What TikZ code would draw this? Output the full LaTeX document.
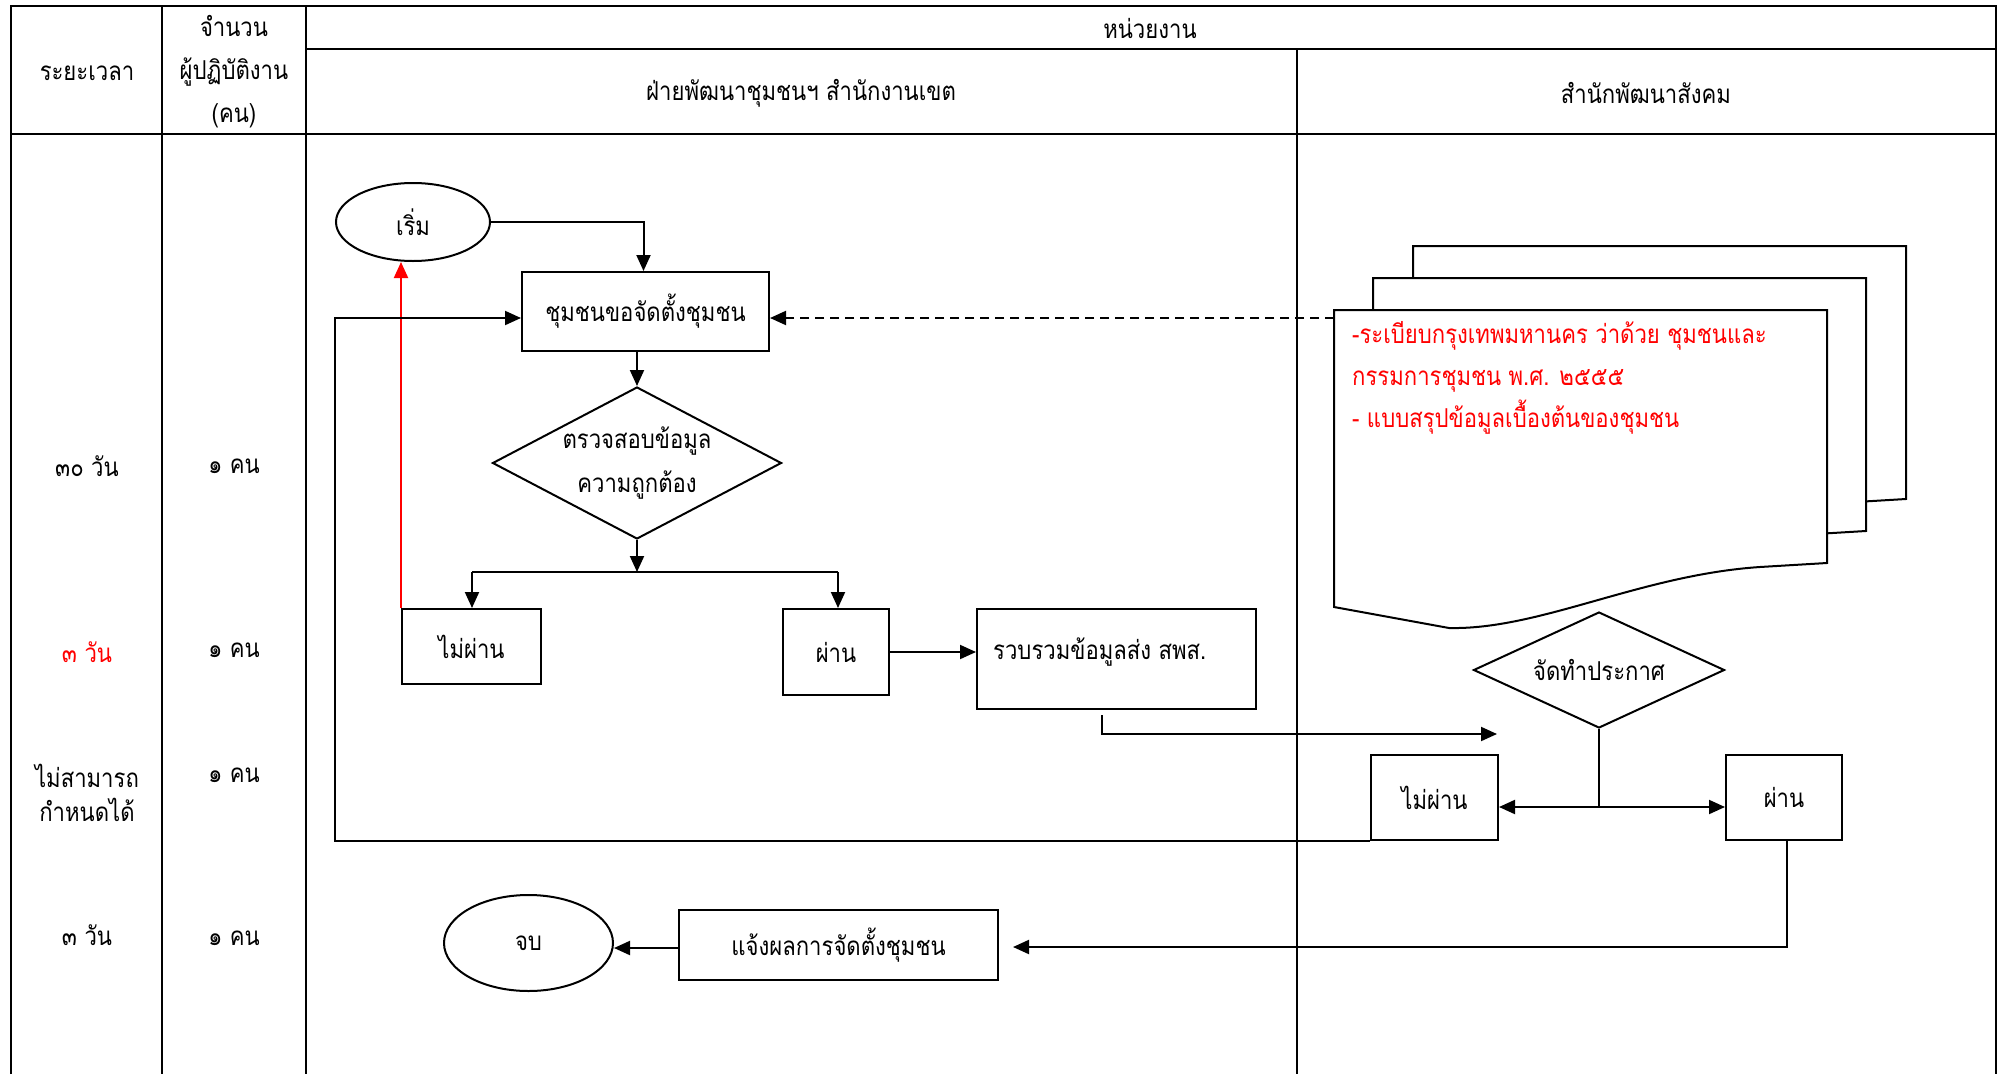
\documentclass[tikz,border=0pt]{standalone}
\usepackage{fontspec}
\newfontfamily\thaifont[Script=Thai,FakeStretch=0.85]{Loma}
\usetikzlibrary{shapes.geometric,arrows.meta,calc}
\begin{document}
\begin{tikzpicture}[x=1pt,y=-1pt,
  every node/.style={font=\thaifont\fontsize{26}{34}\selectfont},
  tline/.style={line width=2.6pt},
  fline/.style={line width=2pt},
  arr/.style={fline,-{Triangle[length=16pt,width=14pt]}},
  box/.style={draw,fline,rectangle,inner sep=0pt},
  oval/.style={draw,fline,ellipse,inner sep=0pt},
  dia/.style={draw,fline,diamond,inner sep=0pt},
  txt/.style={inner sep=0pt},
  redtxt/.style={txt,text=red},
  docpage/.style={fline,fill=white}]
\useasboundingbox (0,0) rectangle (2006,1074);
\fill[white] (0,0) rectangle (2006,1074);

% ---------- table ----------
\draw[tline] (11,1074) -- (11,6) -- (1996,6) -- (1996,1074);
\draw[tline] (162,6) -- (162,1074);
\draw[tline] (306,6) -- (306,1074);
\draw[tline] (1297,49) -- (1297,1074);
\draw[tline] (306,49) -- (1996,49);
\draw[tline] (11,134) -- (1996,134);

\node[txt] (hperiod) at (87,73) {ระยะเวลา};
\node[txt,align=center,font=\thaifont\fontsize{26}{43}\selectfont] (hstaff) at (234,72) {จำนวน\\ผู้ปฏิบัติงาน\\(คน)};
\node[txt] (hunit) at (1150,28) {หน่วยงาน};
\node[txt] (hdist) at (801,93) {ฝ่ายพัฒนาชุมชนฯ สำนักงานเขต};
\node[txt] (hsoc) at (1646,93) {สำนักพัฒนาสังคม};

\node[txt] (p1) at (87,466) {๓๐ วัน};
\node[txt] (s1) at (234,466) {๑ คน};
\node[redtxt] (p2) at (87,652) {๓ วัน};
\node[txt] (s2) at (234,650) {๑ คน};
\node[txt,align=center] (p3) at (87,793) {ไม่สามารถ\\กำหนดได้};
\node[txt] (s3) at (234,775) {๑ คน};
\node[txt] (p4) at (87,935) {๓ วัน};
\node[txt] (s4) at (234,938) {๑ คน};

% ---------- document stack ----------
\def\docshape{(1334,310) -- (1827,310) -- (1827,563) -- (1760,567)
  .. controls (1640,575) and (1540,630) .. (1449,628) -- (1334,607) -- cycle}
\draw[docpage,shift={(79,-64)}] \docshape;
\draw[docpage,shift={(39,-32)}] \docshape;
\draw[docpage] \docshape;
\coordinate (docL) at (1334,318);
\node[redtxt,anchor=west,align=left,font=\thaifont\fontsize{26}{42}\selectfont] (doctext) at (1352,378)
  {-ระเบียบกรุงเทพมหานคร ว่าด้วย ชุมชนและ\\กรรมการชุมชน พ.ศ. ๒๕๕๕\\- แบบสรุปข้อมูลเบื้องต้นของชุมชน};

% ---------- flow nodes ----------
\node[oval,minimum width=154,minimum height=78] (start) at (413,222) {เริ่ม};
\node[box,minimum width=247,minimum height=79] (req) at (645.5,311.5) {ชุมชนขอจัดตั้งชุมชน};
\node[dia,minimum width=289,minimum height=152] (check) at (637,463) {};
\node[txt,align=center,font=\thaifont\fontsize{26}{44}\selectfont] (checkt) at (check.center) {ตรวจสอบข้อมูล\\ความถูกต้อง};
\node[box,minimum width=139,minimum height=75] (nopassA) at (471.5,646.5) {ไม่ผ่าน};
\node[box,minimum width=106,minimum height=86] (passA) at (836,652) {ผ่าน};
\node[box,minimum width=279,minimum height=100] (gather) at (1116.5,659) {};
\node[txt,anchor=west] (gathert) at (993,652) {รวบรวมข้อมูลส่ง สพส.};
\node[dia,minimum width=251,minimum height=116] (announce) at (1599,670) {};
\node[txt] (announcet) at (announce.center) {จัดทำประกาศ};
\node[box,minimum width=127,minimum height=85] (nopassB) at (1434.5,797.5) {ไม่ผ่าน};
\node[box,minimum width=116,minimum height=85] (passB) at (1784,797.5) {ผ่าน};
\node[box,minimum width=319,minimum height=70] (notify) at (838.5,945) {แจ้งผลการจัดตั้งชุมชน};
\node[oval,minimum width=169,minimum height=96] (stop) at (528.5,943) {จบ};

% ---------- connectors ----------
\coordinate (brL) at (472,572);
\coordinate (brR) at (838,572);
\coordinate (gatherEnd) at (1497,734);
\coordinate (annJ) at (1599,807);
\coordinate (loopC) at (335,318);

\draw[arr] (start.east) -| ([xshift=-2pt]req.north);
\draw[arr] (req.south -| check.north) -- (check.north);
\draw[arr] (check.south) -- (check.south |- brL);
\draw[fline] (brL) -- (brR);
\draw[arr] (brL) -- (brL |- nopassA.north);
\draw[arr] (brR) -- (brR |- passA.north);
\draw[arr,red] (nopassA.north west) -- (nopassA.north west |- start.south);
\draw[arr] (passA.east) -- (passA.east -| gather.west);
\draw[arr] ([xshift=-15pt,yshift=-5pt]gather.south) |- (gatherEnd);
\draw[fline] (announce.south) -- (annJ);
\draw[arr] (annJ) -- (annJ -| nopassB.east);
\draw[arr] (annJ) -- (annJ -| passB.west);
\draw[arr] (nopassB.south west) -| (loopC) -- (loopC -| req.west);
\draw[arr,dash pattern=on 9pt off 6pt] (docL) -- (docL -| req.east);
\draw[arr] ([xshift=3pt]passB.south) |- ([xshift=14pt,yshift=-2pt]notify.east);
\draw[arr] ([yshift=-3pt]notify.west) -- ([yshift=-3pt]notify.west -| stop.east);
\end{tikzpicture}
\end{document}
